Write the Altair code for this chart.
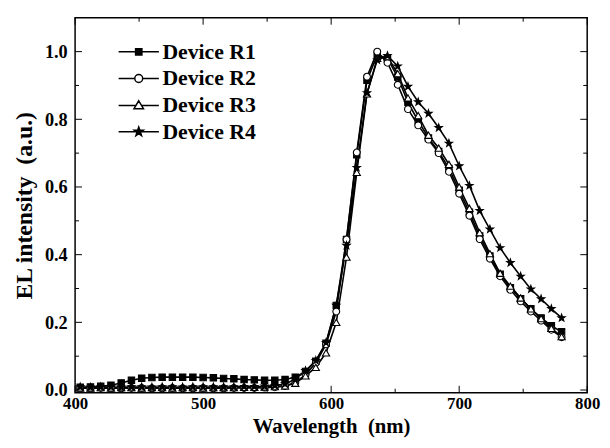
import altair as alt
import pandas as pd

devices = ["Device R1", "Device R2", "Device R3", "Device R4"]

wavelength = [404, 412, 420, 428, 436, 444, 452, 460, 468, 476, 484, 492, 500, 508, 516, 524,
              532, 540, 548, 556, 564, 572, 580, 588, 596, 604, 612, 620, 628, 636, 644, 652,
              660, 668, 676, 684, 692, 700, 708, 716, 724, 732, 740, 748, 756, 764, 772, 780]

r1 = [0.008, 0.009, 0.011, 0.014, 0.021, 0.029, 0.035, 0.037, 0.038, 0.038, 0.038, 0.038, 0.037, 0.036,
      0.034, 0.033, 0.031, 0.030, 0.029, 0.029,
      0.031, 0.038, 0.055, 0.085, 0.138, 0.25, 0.445, 0.695, 0.915, 0.99,
      0.98, 0.925, 0.85, 0.795, 0.745, 0.705, 0.655, 0.59, 0.525, 0.455, 0.396, 0.342, 0.302, 0.27,
      0.24, 0.213, 0.19, 0.172]
r2 = [0.005, 0.005, 0.006, 0.005, 0.005, 0.006, 0.006, 0.005, 0.005, 0.006, 0.005, 0.005, 0.006, 0.005,
      0.005, 0.006, 0.006, 0.006, 0.007, 0.008,
      0.012, 0.022, 0.045, 0.08, 0.135, 0.232, 0.445, 0.702, 0.926, 1.0,
      0.967, 0.902, 0.83, 0.782, 0.74, 0.70, 0.645, 0.58, 0.515, 0.446, 0.388, 0.336, 0.296, 0.262,
      0.232, 0.205, 0.178, 0.156]
r3 = [0.006, 0.006, 0.007, 0.006, 0.007, 0.007, 0.006, 0.007, 0.007, 0.006, 0.007, 0.007, 0.006, 0.007,
      0.007, 0.007, 0.008, 0.008, 0.009, 0.010,
      0.012, 0.02, 0.042, 0.067, 0.11, 0.20, 0.393, 0.643, 0.875, 0.98,
      0.985, 0.935, 0.863, 0.811, 0.753, 0.715, 0.667, 0.600, 0.537, 0.465, 0.403, 0.345, 0.307, 0.272,
      0.240, 0.211, 0.182, 0.158]
r4 = [0.009, 0.008, 0.009, 0.009, 0.008, 0.009, 0.009, 0.008, 0.009, 0.009, 0.008, 0.009, 0.009, 0.009,
      0.009, 0.009, 0.010, 0.010, 0.011, 0.013,
      0.018, 0.032, 0.057, 0.087, 0.14, 0.25, 0.427, 0.657, 0.878, 0.975,
      0.988, 0.957, 0.897, 0.851, 0.817, 0.775, 0.729, 0.662, 0.604, 0.530, 0.475, 0.420, 0.376, 0.336,
      0.298, 0.269, 0.240, 0.213]

x_major = [400, 500, 600, 700, 800]
x_minor = [450, 550, 650, 750]
y_major = [0.0, 0.2, 0.4, 0.6, 0.8, 1.0]
y_minor = [0.1, 0.3, 0.5, 0.7, 0.9]

rows = []
for d, vals in zip(devices, [r1, r2, r3, r4]):
    for w, v in zip(wavelength, vals):
        rows.append({"device": d, "wavelength": w, "intensity": v})
df = pd.DataFrame(rows)

W, H = 519, 380
FONT = "Liberation Serif"
xscale = alt.Scale(domain=[400, 800], nice=False, zero=False)
yscale = alt.Scale(domain=[-0.008, 1.1], nice=False, zero=False)

STAR = ("M0,-1L0.235,-0.324L0.951,-0.309L0.380,0.124L0.588,0.809L0,0.4"
        "L-0.588,0.809L-0.380,0.124L-0.951,-0.309L-0.235,-0.324Z")
marker_shapes = ["square", "circle", "triangle-up", STAR]
marker_fills = ["black", "white", "white", "black"]
marker_strokes = ["black", "black", "black", "black"]
marker_sizes = [42, 60, 75, 110]

legend_shapes = [
    "M-5.1,0L-0.8,0M0.8,0L5.1,0M-0.8,-0.8L0.8,-0.8L0.8,0.8L-0.8,0.8Z",
    "M-5.1,0L-1,0M1,0L5.1,0M1,0A1,1,0,1,1,-1,0A1,1,0,1,1,1,0Z",
    "M-5.1,0.1L-0.7,0.1M0.7,0.1L5.1,0.1M0,-1.1L1.2,0.9L-1.2,0.9Z",
    "M-5.1,0L5.1,0M0,-1.2L0.282,-0.389L1.141,-0.371L0.456,0.149L0.706,0.971L0,0.48"
    "L-0.706,0.971L-0.456,0.149L-1.141,-0.371L-0.282,-0.389Z",
]

x_axis = alt.Axis(values=x_major, format="d", title="Wavelength\u00a0\u00a0(nm)",
                  ticks=False, domain=False, grid=False, labelFlush=False, labelOverlap=False,
                  labelFont=FONT, labelFontSize=17, labelFontWeight="bold", labelColor="black",
                  labelPadding=3, titleFont=FONT, titleFontSize=21, titleFontWeight="bold",
                  titleColor="black", titlePadding=4)
y_axis = alt.Axis(values=y_major, format=".1f", title="EL intensity\u00a0\u00a0(a.u.)",
                  ticks=False, domain=False, grid=False, labelOverlap=False,
                  labelFont=FONT, labelFontSize=18.5, labelFontWeight="bold", labelColor="black",
                  labelPadding=8, titleFont=FONT, titleFontSize=24, titleFontWeight="bold",
                  titleColor="black", titlePadding=8)

base = alt.Chart(df)

lines = base.mark_line(color="black", strokeWidth=1.6).encode(
    x=alt.X("wavelength:Q", scale=xscale, axis=x_axis),
    y=alt.Y("intensity:Q", scale=yscale, axis=y_axis),
    detail="device:N",
)

points = base.mark_point(filled=True, stroke="black", strokeWidth=1.1, opacity=1).encode(
    x=alt.X("wavelength:Q", scale=xscale, axis=x_axis),
    y=alt.Y("intensity:Q", scale=yscale, axis=y_axis),
    shape=alt.Shape("device:N", scale=alt.Scale(domain=devices, range=marker_shapes), legend=None),
    fill=alt.Fill("device:N", scale=alt.Scale(domain=devices, range=marker_fills), legend=None),
    size=alt.Size("device:N", scale=alt.Scale(domain=devices, range=marker_sizes), legend=None),
)

legend_cfg = dict(orient="none", legendX=53.5, legendY=23.5, title=None, padding=0,
                  labelFont=FONT, labelFontSize=22, labelFontWeight="bold", labelColor="black",
                  symbolSize=64, symbolStrokeWidth=1.5, symbolStrokeColor="black",
                  symbolOpacity=1, labelOffset=13, rowPadding=5)

legend_layer = base.mark_point(filled=True, strokeWidth=1.5, opacity=1).encode(
    shape=alt.Shape("device:N", scale=alt.Scale(domain=devices, range=legend_shapes),
                    legend=alt.Legend(**legend_cfg)),
    fill=alt.Fill("device:N", scale=alt.Scale(domain=devices, range=marker_fills),
                  legend=alt.Legend(**legend_cfg)),
    stroke=alt.Stroke("device:N", scale=alt.Scale(domain=devices, range=marker_strokes),
                      legend=alt.Legend(**legend_cfg)),
).transform_filter("false")

xt_major = pd.DataFrame({"t": x_major})
xt_minor = pd.DataFrame({"t": x_minor})
yt_major = pd.DataFrame({"t": y_major})
yt_minor = pd.DataFrame({"t": y_minor})


def xticks(data, length):
    c = alt.Chart(data)
    bottom = c.mark_rule(color="black", strokeWidth=1).encode(
        x=alt.X("t:Q", scale=xscale, axis=x_axis), y=alt.value(H), y2=alt.value(H - length))
    top = c.mark_rule(color="black", strokeWidth=1).encode(
        x=alt.X("t:Q", scale=xscale, axis=x_axis), y=alt.value(0), y2=alt.value(length))
    return [bottom, top]


def yticks(data, length):
    c = alt.Chart(data)
    left = c.mark_rule(color="black", strokeWidth=1).encode(
        y=alt.Y("t:Q", scale=yscale, axis=y_axis), x=alt.value(0), x2=alt.value(length))
    right = c.mark_rule(color="black", strokeWidth=1).encode(
        y=alt.Y("t:Q", scale=yscale, axis=y_axis), x=alt.value(W - length), x2=alt.value(W))
    return [left, right]


tick_layers = xticks(xt_major, 7) + xticks(xt_minor, 4) + yticks(yt_major, 7) + yticks(yt_minor, 4)

chart = alt.layer(lines, *tick_layers, points, legend_layer).resolve_scale(
    shape="independent", fill="independent", size="independent", stroke="independent"
).properties(
    width=W, height=H, background="white",
    autosize=alt.AutoSizeParams(type="none"),
    padding={"left": 68, "top": 7, "right": 15, "bottom": 45},
).configure_view(stroke="black", strokeWidth=1.5)

chart.save("out.html", embed_options={"renderer": "svg", "actions": False})
